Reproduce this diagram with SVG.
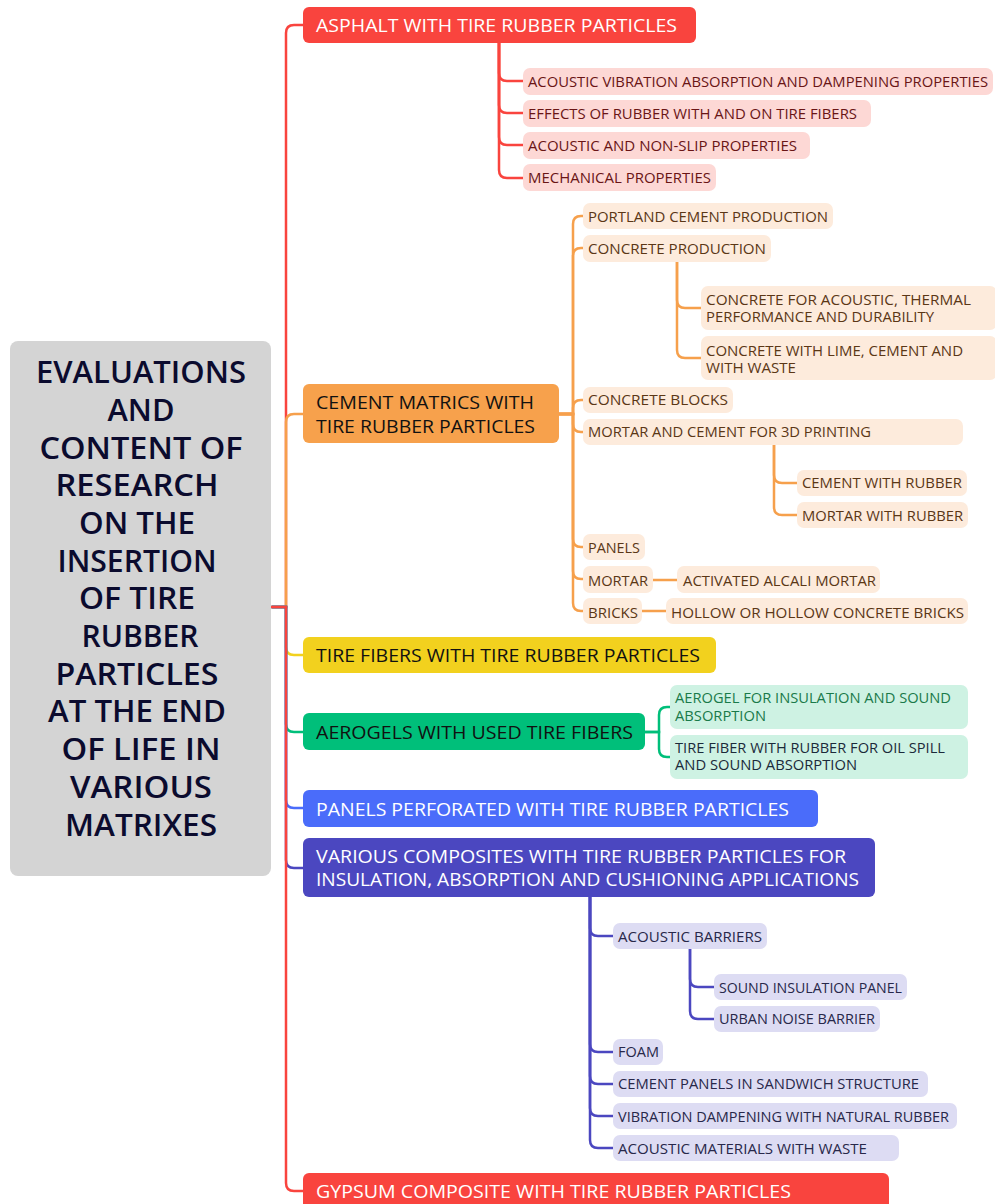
<svg xmlns="http://www.w3.org/2000/svg" width="995" height="1204" viewBox="0 0 995 1204">
  <style>
    text { font-family: "Open Sans", "Liberation Sans", sans-serif; }
    .main { font-size: 18px; font-weight: 500; }
    .sub { font-size: 14.5px; }
    .root { font-size: 30px; font-weight: 600; fill: #0b0b2e; text-anchor: middle; }
    .w { fill: #ffffff; }
    .k { fill: #111111; }
    .line { fill: none; stroke-width: 2.5; stroke-linecap: round; }
    .red { stroke: #f9443e; }
    .org { stroke: #f6a04c; }
    .yel { stroke: #f2d11e; }
    .grn { stroke: #00bf7a; }
    .blu { stroke: #4a6cfa; }
    .ind { stroke: #4b47c0; }
    .fr { fill: #f9443e; }
    .fo { fill: #f7a14c; }
    .fy { fill: #f2d11e; }
    .fg { fill: #00bf7a; }
    .fb { fill: #4a6cfa; }
    .fi { fill: #4b47c0; }
    .cr { fill: #fdd8d5; }
    .co { fill: #fdebdc; }
    .cg { fill: #cef2e3; }
    .ci { fill: #dddcf3; }
    .tr { fill: #6a1515; }
    .to { fill: #5b3716; }
    .tg { fill: #1a7a4a; }
    .tn { fill: #1b2a3a; }
    .ti { fill: #28284a; }
  </style>

  <!-- connectors -->
  <g id="connectors">
    <!-- root to main branches -->
    <path class="line red" d="M272,607 H286 V33 Q286,25 294,25 H303"/>
    <path class="line org" d="M272,607 H286 V422 Q286,414 294,414 H303"/>
    <path class="line yel" d="M272,607 H286 V647 Q286,655 294,655 H303"/>
    <path class="line grn" d="M272,607 H286 V724 Q286,732 294,732 H303"/>
    <path class="line blu" d="M272,607 H286 V800 Q286,808 294,808 H303"/>
    <path class="line ind" d="M272,607 H286 V860 Q286,868 294,868 H303"/>
    <path class="line red" d="M272,607 H286 V1183 Q286,1191 294,1191 H303"/>

    <!-- asphalt children -->
    <path class="line red" d="M499,43 V73 Q499,81 507,81 H523"/>
    <path class="line red" d="M499,43 V105 Q499,113 507,113 H523"/>
    <path class="line red" d="M499,43 V137 Q499,145 507,145 H523"/>
    <path class="line red" d="M499,43 V170 Q499,178 507,178 H523"/>

    <!-- cement children -->
    <path class="line org" d="M559,414 H573 V224 Q573,216 581,216 H584"/>
    <path class="line org" d="M559,414 H573 V256 Q573,248 581,248 H584"/>
    <path class="line org" d="M559,414 H573 V408 Q573,400 581,400 H584"/>
    <path class="line org" d="M559,414 H573 V424 Q573,432 581,432 H584"/>
    <path class="line org" d="M559,414 H573 V539 Q573,547 581,547 H584"/>
    <path class="line org" d="M559,414 H573 V571 Q573,579 581,579 H584"/>
    <path class="line org" d="M559,414 H573 V603 Q573,611 581,611 H584"/>
    <path class="line org" d="M677,261 V300 Q677,308 685,308 H701"/>
    <path class="line org" d="M677,261 V350 Q677,358 685,358 H701"/>
    <path class="line org" d="M774,445 V475 Q774,483 782,483 H797"/>
    <path class="line org" d="M774,445 V507 Q774,515 782,515 H797"/>
    <path class="line org" d="M653,580 H677"/>
    <path class="line org" d="M642,611 H666"/>

    <!-- aerogel children -->
    <path class="line grn" d="M645,732 H659 V715 Q659,707 667,707 H670"/>
    <path class="line grn" d="M645,732 H659 V749 Q659,757 667,757 H670"/>

    <!-- composites children -->
    <path class="line ind" d="M590,897 V928 Q590,936 598,936 H613"/>
    <path class="line ind" d="M590,897 V1044 Q590,1052 598,1052 H613"/>
    <path class="line ind" d="M590,897 V1076 Q590,1084 598,1084 H613"/>
    <path class="line ind" d="M590,897 V1108 Q590,1116 598,1116 H613"/>
    <path class="line ind" d="M590,897 V1140 Q590,1148 598,1148 H613"/>
    <path class="line ind" d="M690,949 V979 Q690,987 698,987 H714"/>
    <path class="line ind" d="M690,949 V1011 Q690,1019 698,1019 H714"/>
  </g>

  <!-- root -->
  <g id="root">
    <rect x="10" y="341" width="261" height="535" rx="8" fill="#d4d4d4"/>
    <text class="root" x="141" y="383" textLength="210" lengthAdjust="spacingAndGlyphs">EVALUATIONS</text>
    <text class="root" x="141" y="421" textLength="67" lengthAdjust="spacingAndGlyphs">AND</text>
    <text class="root" x="141" y="459" textLength="203" lengthAdjust="spacingAndGlyphs">CONTENT OF</text>
    <text class="root" x="137" y="496" textLength="163" lengthAdjust="spacingAndGlyphs">RESEARCH</text>
    <text class="root" x="137" y="534" textLength="116" lengthAdjust="spacingAndGlyphs">ON THE</text>
    <text class="root" x="137" y="572" textLength="159" lengthAdjust="spacingAndGlyphs">INSERTION</text>
    <text class="root" x="137" y="609" textLength="116" lengthAdjust="spacingAndGlyphs">OF TIRE</text>
    <text class="root" x="140" y="647" textLength="117" lengthAdjust="spacingAndGlyphs">RUBBER</text>
    <text class="root" x="137" y="685" textLength="163" lengthAdjust="spacingAndGlyphs">PARTICLES</text>
    <text class="root" x="137" y="722" textLength="178" lengthAdjust="spacingAndGlyphs">AT THE END</text>
    <text class="root" x="141" y="760" textLength="159" lengthAdjust="spacingAndGlyphs">OF LIFE IN</text>
    <text class="root" x="141" y="798" textLength="142" lengthAdjust="spacingAndGlyphs">VARIOUS</text>
    <text class="root" x="141" y="836" textLength="152" lengthAdjust="spacingAndGlyphs">MATRIXES</text>
  </g>

  <!-- asphalt branch -->
  <g id="asphalt">
    <rect class="fr" x="303" y="7" width="393" height="36" rx="6"/>
    <text class="main w" x="316" y="32" textLength="361" lengthAdjust="spacingAndGlyphs">ASPHALT WITH TIRE RUBBER PARTICLES</text>
  </g>
  <g id="asphalt-acoustic-vibration">
    <rect class="cr" x="523" y="68" width="470" height="27" rx="7"/>
    <text class="sub tr" x="528" y="87" textLength="460" lengthAdjust="spacingAndGlyphs">ACOUSTIC VIBRATION ABSORPTION AND DAMPENING PROPERTIES</text>
  </g>
  <g id="asphalt-effects">
    <rect class="cr" x="523" y="100" width="348" height="27" rx="7"/>
    <text class="sub tr" x="528" y="119" textLength="329" lengthAdjust="spacingAndGlyphs">EFFECTS OF RUBBER WITH AND ON TIRE FIBERS</text>
  </g>
  <g id="asphalt-non-slip">
    <rect class="cr" x="523" y="132" width="287" height="27" rx="7"/>
    <text class="sub tr" x="528" y="151" textLength="269" lengthAdjust="spacingAndGlyphs">ACOUSTIC AND NON-SLIP PROPERTIES</text>
  </g>
  <g id="asphalt-mechanical">
    <rect class="cr" x="523" y="164" width="193" height="27" rx="7"/>
    <text class="sub tr" x="528" y="183" textLength="183" lengthAdjust="spacingAndGlyphs">MECHANICAL PROPERTIES</text>
  </g>

  <!-- cement branch -->
  <g id="cement">
    <rect class="fo" x="303" y="384" width="256" height="59" rx="6"/>
    <text class="main k" x="316" y="409" textLength="218" lengthAdjust="spacingAndGlyphs">CEMENT MATRICS WITH</text>
    <text class="main k" x="316" y="433" textLength="219" lengthAdjust="spacingAndGlyphs">TIRE RUBBER PARTICLES</text>
  </g>
  <g id="cement-portland">
    <rect class="co" x="583" y="203" width="250" height="26" rx="7"/>
    <text class="sub to" x="588" y="222" textLength="240" lengthAdjust="spacingAndGlyphs">PORTLAND CEMENT PRODUCTION</text>
  </g>
  <g id="cement-concrete">
    <rect class="co" x="583" y="235" width="188" height="27" rx="7"/>
    <text class="sub to" x="588" y="254" textLength="178" lengthAdjust="spacingAndGlyphs">CONCRETE PRODUCTION</text>
  </g>
  <g id="concrete-acoustic">
    <rect class="co" x="701" y="286" width="296" height="44" rx="7"/>
    <text class="sub to" x="706" y="305" textLength="265" lengthAdjust="spacingAndGlyphs">CONCRETE FOR ACOUSTIC, THERMAL</text>
    <text class="sub to" x="706" y="322" textLength="228" lengthAdjust="spacingAndGlyphs">PERFORMANCE AND DURABILITY</text>
  </g>
  <g id="concrete-lime">
    <rect class="co" x="701" y="336" width="296" height="44" rx="7"/>
    <text class="sub to" x="706" y="356" textLength="257" lengthAdjust="spacingAndGlyphs">CONCRETE WITH LIME, CEMENT AND</text>
    <text class="sub to" x="706" y="373" textLength="90" lengthAdjust="spacingAndGlyphs">WITH WASTE</text>
  </g>
  <g id="cement-blocks">
    <rect class="co" x="583" y="387" width="150" height="26" rx="7"/>
    <text class="sub to" x="588" y="405" textLength="140" lengthAdjust="spacingAndGlyphs">CONCRETE BLOCKS</text>
  </g>
  <g id="cement-3d">
    <rect class="co" x="583" y="419" width="380" height="26" rx="7"/>
    <text class="sub to" x="588" y="437" textLength="283" lengthAdjust="spacingAndGlyphs">MORTAR AND CEMENT FOR 3D PRINTING</text>
  </g>
  <g id="printing-cement">
    <rect class="co" x="797" y="470" width="170" height="26" rx="7"/>
    <text class="sub to" x="802" y="488" textLength="160" lengthAdjust="spacingAndGlyphs">CEMENT WITH RUBBER</text>
  </g>
  <g id="printing-mortar">
    <rect class="co" x="797" y="502" width="171" height="26" rx="7"/>
    <text class="sub to" x="802" y="521" textLength="161" lengthAdjust="spacingAndGlyphs">MORTAR WITH RUBBER</text>
  </g>
  <g id="cement-panels">
    <rect class="co" x="583" y="534" width="62" height="26" rx="7"/>
    <text class="sub to" x="588" y="553" textLength="52" lengthAdjust="spacingAndGlyphs">PANELS</text>
  </g>
  <g id="cement-mortar">
    <rect class="co" x="583" y="566" width="70" height="27" rx="7"/>
    <text class="sub to" x="588" y="586" textLength="60" lengthAdjust="spacingAndGlyphs">MORTAR</text>
  </g>
  <g id="mortar-alcali">
    <rect class="co" x="677" y="566" width="203" height="27" rx="7"/>
    <text class="sub to" x="683" y="586" textLength="193" lengthAdjust="spacingAndGlyphs">ACTIVATED ALCALI MORTAR</text>
  </g>
  <g id="cement-bricks">
    <rect class="co" x="583" y="598" width="59" height="26" rx="7"/>
    <text class="sub to" x="588" y="618" textLength="50" lengthAdjust="spacingAndGlyphs">BRICKS</text>
  </g>
  <g id="bricks-hollow">
    <rect class="co" x="666" y="598" width="302" height="26" rx="7"/>
    <text class="sub to" x="671" y="618" textLength="293" lengthAdjust="spacingAndGlyphs">HOLLOW OR HOLLOW CONCRETE BRICKS</text>
  </g>

  <!-- tire fibers branch -->
  <g id="tire-fibers">
    <rect class="fy" x="303" y="637" width="413" height="36" rx="6"/>
    <text class="main k" x="316" y="662" textLength="384" lengthAdjust="spacingAndGlyphs">TIRE FIBERS WITH TIRE RUBBER PARTICLES</text>
  </g>

  <!-- aerogels branch -->
  <g id="aerogels">
    <rect class="fg" x="303" y="713" width="342" height="37" rx="6"/>
    <text class="main k" x="316" y="739" textLength="317" lengthAdjust="spacingAndGlyphs">AEROGELS WITH USED TIRE FIBERS</text>
  </g>
  <g id="aerogel-insulation">
    <rect class="cg" x="670" y="685" width="298" height="44" rx="7"/>
    <text class="sub tg" x="675" y="703" textLength="276" lengthAdjust="spacingAndGlyphs">AEROGEL FOR INSULATION AND SOUND</text>
    <text class="sub tg" x="675" y="721" textLength="91" lengthAdjust="spacingAndGlyphs">ABSORPTION</text>
  </g>
  <g id="aerogel-oil-spill">
    <rect class="cg" x="670" y="735" width="298" height="44" rx="7"/>
    <text class="sub tn" x="675" y="753" textLength="270" lengthAdjust="spacingAndGlyphs">TIRE FIBER WITH RUBBER FOR OIL SPILL</text>
    <text class="sub tn" x="675" y="770" textLength="182" lengthAdjust="spacingAndGlyphs">AND SOUND ABSORPTION</text>
  </g>

  <!-- perforated panels branch -->
  <g id="panels">
    <rect class="fb" x="303" y="790" width="515" height="37" rx="6"/>
    <text class="main w" x="316" y="816" textLength="473" lengthAdjust="spacingAndGlyphs">PANELS PERFORATED WITH TIRE RUBBER PARTICLES</text>
  </g>

  <!-- composites branch -->
  <g id="composites">
    <rect class="fi" x="303" y="838" width="572" height="59" rx="6"/>
    <text class="main w" x="316" y="863" textLength="530" lengthAdjust="spacingAndGlyphs">VARIOUS COMPOSITES WITH TIRE RUBBER PARTICLES FOR</text>
    <text class="main w" x="316" y="886" textLength="543" lengthAdjust="spacingAndGlyphs">INSULATION, ABSORPTION AND CUSHIONING APPLICATIONS</text>
  </g>
  <g id="composites-barriers">
    <rect class="ci" x="613" y="923" width="154" height="26" rx="7"/>
    <text class="sub ti" x="618" y="942" textLength="144" lengthAdjust="spacingAndGlyphs">ACOUSTIC BARRIERS</text>
  </g>
  <g id="barriers-panel">
    <rect class="ci" x="714" y="974" width="193" height="26" rx="7"/>
    <text class="sub ti" x="719" y="993" textLength="183" lengthAdjust="spacingAndGlyphs">SOUND INSULATION PANEL</text>
  </g>
  <g id="barriers-urban">
    <rect class="ci" x="714" y="1006" width="166" height="26" rx="7"/>
    <text class="sub ti" x="719" y="1024" textLength="156" lengthAdjust="spacingAndGlyphs">URBAN NOISE BARRIER</text>
  </g>
  <g id="composites-foam">
    <rect class="ci" x="613" y="1039" width="50" height="26" rx="7"/>
    <text class="sub ti" x="618" y="1057" textLength="41" lengthAdjust="spacingAndGlyphs">FOAM</text>
  </g>
  <g id="composites-sandwich">
    <rect class="ci" x="613" y="1071" width="315" height="26" rx="7"/>
    <text class="sub ti" x="618" y="1089" textLength="301" lengthAdjust="spacingAndGlyphs">CEMENT PANELS IN SANDWICH STRUCTURE</text>
  </g>
  <g id="composites-vibration">
    <rect class="ci" x="613" y="1103" width="344" height="26" rx="7"/>
    <text class="sub ti" x="618" y="1122" textLength="331" lengthAdjust="spacingAndGlyphs">VIBRATION DAMPENING WITH NATURAL RUBBER</text>
  </g>
  <g id="composites-waste">
    <rect class="ci" x="613" y="1135" width="286" height="26" rx="7"/>
    <text class="sub ti" x="618" y="1154" textLength="249" lengthAdjust="spacingAndGlyphs">ACOUSTIC MATERIALS WITH WASTE</text>
  </g>

  <!-- gypsum branch -->
  <g id="gypsum">
    <rect class="fr" x="303" y="1173" width="586" height="40" rx="6"/>
    <text class="main w" x="316" y="1198" textLength="475" lengthAdjust="spacingAndGlyphs">GYPSUM COMPOSITE WITH TIRE RUBBER PARTICLES</text>
  </g>
</svg>
